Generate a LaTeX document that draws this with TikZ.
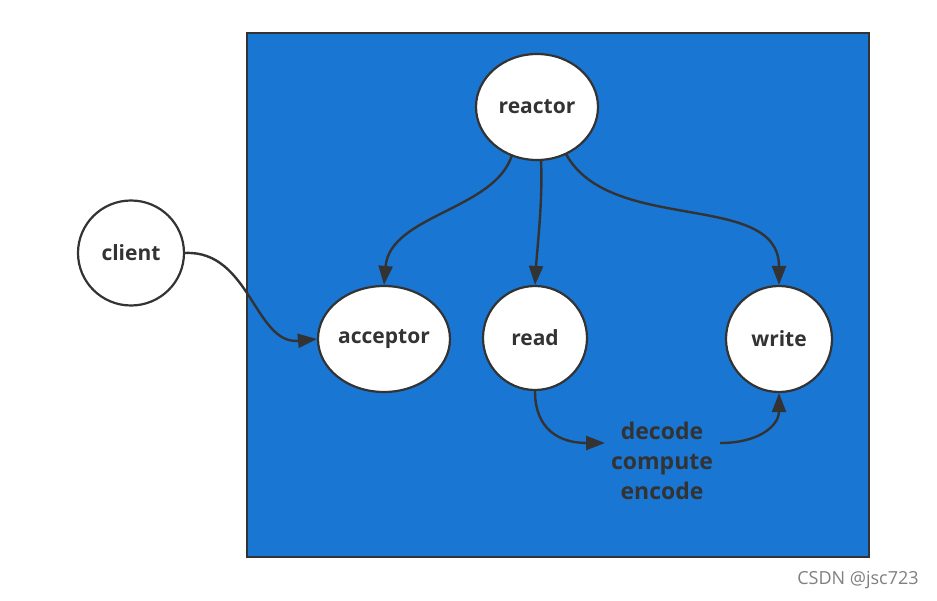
\documentclass[tikz,border=0pt]{standalone}
\usepackage{fontspec}
\setmainfont{Open Sans}
\usetikzlibrary{arrows.meta,shapes.geometric}
\definecolor{bgblue}{RGB}{25,118,210}
\definecolor{ink}{RGB}{51,51,51}
\tikzset{
  state/.style={ellipse, draw=ink, line width=2.2pt, fill=white, inner sep=0pt,
    font=\fontsize{21}{24}\selectfont\bfseries, text=ink},
  conn/.style={draw=ink, line width=2.4pt, -{Triangle[length=19pt,width=14pt]}},
}
\begin{document}
\begin{tikzpicture}[x=1pt,y=-1pt]
\useasboundingbox (0,0) rectangle (937,601);
\fill[white] (0,0) rectangle (937,601);
\draw[draw=ink, line width=2.2pt, fill=bgblue] (247,33) rectangle (869,557);
\node[state, minimum width=122pt, minimum height=106pt] (reactor) at (537,107) {reactor};
\node[state, minimum width=106pt, minimum height=105pt] (client) at (131,253) {client};
\node[state, minimum width=132pt, minimum height=106pt] (acceptor) at (384,339) {acceptor};
\node[state, minimum width=104pt, minimum height=104pt] (read) at (535,338) {read};
\node[state, minimum width=106pt, minimum height=106pt] (write) at (779,339) {write};
\node[align=center, text=ink, font=\fontsize{23}{30}\selectfont\bfseries, inner sep=0pt] (proc) at (662,461) {decode\\compute\\encode};
\node[text=gray, font=\fontsize{18}{20}\selectfont, inner sep=0pt] (wm) at (858,580) {CSDN @jsc723};
\coordinate (r1) at (512,155);
\coordinate (r2) at (541,160);
\coordinate (r3) at (566,154);
\coordinate (pin) at (605,443);
\coordinate (pout) at (720,443);
\draw[conn] (r1) .. controls (495,210) and (390,215) .. (acceptor.north);
\draw[conn] (r2) .. controls (543,200) and (537,250) .. (read.north);
\draw[conn] (r3) .. controls (610,235) and (779,190) .. (write.north);
\draw[conn] (client.east) .. controls (250,250) and (255,345) .. (acceptor.west);
\draw[conn] (read.south) .. controls (535,430) and (560,443) .. (pin);
\draw[conn] (pout) .. controls (760,443) and (779,425) .. (write.south);
\end{tikzpicture}
\end{document}
